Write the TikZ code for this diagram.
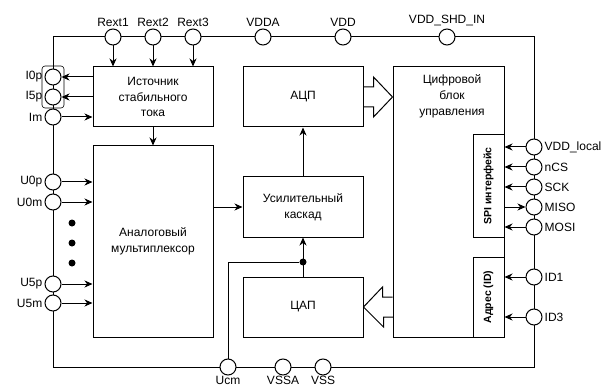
\documentclass[tikz,border=0pt]{standalone}
\usepackage{fontspec}
\setmainfont{Liberation Sans}
\usetikzlibrary{arrows.meta,positioning,calc,fit}
\tikzset{
    pin/.style={circle,draw,fill=white,line width=1pt,minimum size=16pt,inner sep=0pt},
    box/.style={draw,line width=1pt,align=center,minimum width=120pt,minimum height=60pt,font=\fontsize{12}{15.5}\selectfont},
    sidebox/.style={draw,line width=1pt,fill=white,rotate=90,minimum height=31pt,inner sep=1pt,font=\bfseries\fontsize{10.5}{12}\selectfont},
    arrow/.style={-{Stealth[length=8pt,width=7pt,inset=2.5pt]},line width=1pt},
    wire/.style={line width=1pt},
    hollow/.style={line width=1pt,line join=miter},
    bigdot/.style={circle,fill,minimum size=7pt,inner sep=0pt},
    botlabel/.style={label={[inner sep=0.3pt]below:#1}}
}

\begin{document}
\begin{tikzpicture}[x=1pt,y=-1pt,every label/.append style={font=\fontsize{12}{14}\selectfont,inner sep=2pt}]
    \useasboundingbox (0,0) rectangle (609,387);
    % frame
    \coordinate (tl) at (53,37);
    \coordinate (br) at (534,367);
    \draw[wire] (tl) rectangle (br);

    % blocks
    \node[box] (src) at (153,97) {Источник\\стабильного\\тока};
    \node[box,minimum height=191pt] (mux) at (153,241.5) {Аналоговый\\мультиплексор};
    \node[box] (adc) at (303,97) {АЦП};
    \node[box] (amp) at (303,207) {Усилительный\\каскад};
    \node[box] (dac) at (303,307) {ЦАП};
    \node[box,minimum width=111pt,minimum height=270pt] (dig) at (448.5,202) {};
    \node[align=center,font=\fontsize{12}{16}\selectfont,below=5pt of dig.north,xshift=3.5pt] (digtxt) {Цифровой\\блок\\управления};
    \node[sidebox,minimum width=102pt] (spi) at (488.5,186) {SPI интерфейс};
    \node[sidebox,minimum width=80pt] (addr) at (488.5,297) {Адрес (ID)};

    % pins
    \node[pin,label=above:Rext1] (rext1) at (113,37) {};
    \node[pin,label=above:Rext2] (rext2) at (153,37) {};
    \node[pin,label=above:Rext3] (rext3) at (193,37) {};
    \node[pin,label=above:VDDA] (vdda) at (263,37) {};
    \node[pin,label=above:VDD] (vdd) at (343,37) {};
    \node[pin,label=above:VDD\_SHD\_IN] (vddshd) at (447,37) {};
    \node[pin,label=left:I0p] (i0p) at (53,77) {};
    \node[pin,label=left:I5p] (i5p) at (53,97) {};
    \node[pin,label=left:Im] (im) at (53,117) {};
    \node[pin,label=left:U0p] (u0p) at (53,182) {};
    \node[pin,label=left:U0m] (u0m) at (53,202) {};
    \node[pin,label=left:U5p] (u5p) at (53,284) {};
    \node[pin,label=left:U5m] (u5m) at (53,303) {};
    \node[pin,label=right:VDD\_local] (vddloc) at (534,147) {};
    \node[pin,label=right:nCS] (ncs) at (534,167) {};
    \node[pin,label=right:SCK] (sck) at (534,187) {};
    \node[pin,label=right:MISO] (miso) at (534,207) {};
    \node[pin,label=right:MOSI] (mosi) at (534,227) {};
    \node[pin,label=right:ID1] (id1) at (534,277) {};
    \node[pin,label=right:ID3] (id3) at (534,317) {};
    \node[pin,botlabel=Ucm] (ucm) at (228,367) {};
    \node[pin,botlabel=VSSA] (vssa) at (283,367) {};
    \node[pin,botlabel=VSS] (vss) at (323,367) {};
    \node[fit=(i0p)(i5p),draw,rounded corners=3pt,inner sep=2.5pt,line width=0.6pt] (ibr) {};

    % channel dots
    \node[bigdot] (d1) at (72,223) {};
    \node[bigdot] (d2) at (72,243) {};
    \node[bigdot] (d3) at (72,263) {};

    % current source
    \draw[arrow] (rext1) -- (rext1|-src.north);
    \draw[arrow] (rext2) -- (rext2|-src.north);
    \draw[arrow] (rext3) -- (rext3|-src.north);
    \draw[arrow] (src.west|-i0p) -- (i0p);
    \draw[arrow] (src.west|-i5p) -- (i5p);
    \draw[arrow] (im) -- (src.west|-im);
    \draw[arrow] (src.south) -- (mux.north);

    % multiplexer inputs
    \draw[arrow] (u0p) -- (mux.west|-u0p);
    \draw[arrow] (u0m) -- (mux.west|-u0m);
    \draw[arrow] (u5p) -- (mux.west|-u5p);
    \draw[arrow] (u5m) -- (mux.west|-u5m);

    % signal path
    \draw[arrow] (mux.east|-amp.west) -- (amp.west);
    \draw[arrow] (amp.north) -- (adc.south);
    \draw[arrow] (dac.north) -- (amp.south);
    \node[bigdot] (jn) at (303,262) {};
    \draw[wire] (ucm) |- (jn);

    % wide buses
    \draw[hollow] ($(adc.east)+(0,-10)$) -- ++(10,0) -- ++(0,-10) -- (dig.west|-adc.east)
        -- ($(adc.east)+(10,20)$) -- ++(0,-10) -- ++(-10,0);
    \draw[hollow] ($(dig.west|-dac.east)+(0,-10)$) -- ++(-10,0) -- ++(0,-10) -- (dac.east)
        -- ($(dac.east)+(20,20)$) -- ++(0,-10) -- ++(10,0);

    % interfaces
    \draw[arrow] (vddloc) -- (spi.south|-vddloc);
    \draw[arrow] (ncs) -- (spi.south|-ncs);
    \draw[arrow] (sck) -- (spi.south|-sck);
    \draw[arrow] (spi.south|-miso) -- (miso);
    \draw[arrow] (mosi) -- (spi.south|-mosi);
    \draw[arrow] (id1) -- (addr.south|-id1);
    \draw[arrow] (id3) -- (addr.south|-id3);
\end{tikzpicture}
\end{document}
